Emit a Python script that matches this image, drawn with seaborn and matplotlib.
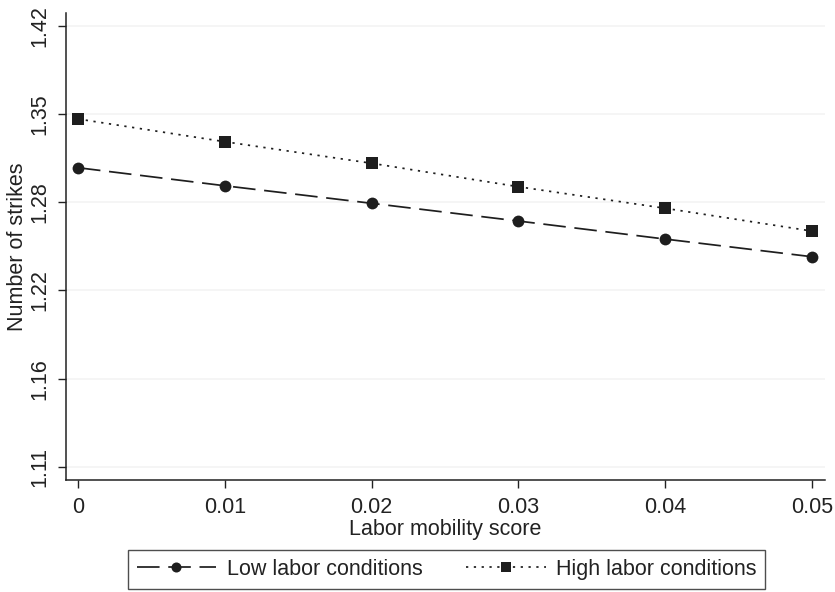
import numpy as np
import pandas as pd
import matplotlib
matplotlib.use("Agg")
import matplotlib.pyplot as plt
import seaborn as sns

# Data (predicted number of strikes)
mobility = [0.00, 0.01, 0.02, 0.03, 0.04, 0.05]
low_labor = [1.3139, 1.3006, 1.2878, 1.2750, 1.2621, 1.2496]
high_labor = [1.3505, 1.3333, 1.3172, 1.2999, 1.2842, 1.2678]
series_names = ["Low labor conditions", "High labor conditions"]

# y axis is log-scaled: ticks evenly spaced on the log scale, labels truncated
ytick_log = [0.1044 + k * 0.0497 for k in range(6)]
ytick_labels = ["1.11", "1.16", "1.22", "1.28", "1.35", "1.42"]
xtick_vals = [0, 0.01, 0.02, 0.03, 0.04, 0.05]
xtick_labels = ["0", "0.01", "0.02", "0.03", "0.04", "0.05"]

df = pd.DataFrame({
    "mobility": mobility * 2,
    "strikes": low_labor + high_labor,
    "group": [series_names[0]] * len(mobility) + [series_names[1]] * len(mobility),
})

sns.set_theme(style="white")
plt.rcParams['font.family'] = ['Liberation Sans', 'DejaVu Sans']
ink = "#1e1e1e"
fs = 15.5

fig = plt.figure(figsize=(8.35, 5.92), dpi=100)
ax = fig.add_axes([0.079, 0.189, 0.909, 0.789])

sns.lineplot(data=df, x="mobility", y="strikes", style="group",
             style_order=series_names,
             markers={series_names[0]: "o", series_names[1]: "s"},
             dashes={series_names[0]: (13, 5), series_names[1]: (1.3, 3.2)},
             color=ink, linewidth=1.25, markersize=8.5, markeredgewidth=0,
             ax=ax)

ax.set_yscale("log")
ax.set_ylim(np.exp(0.0969), np.exp(0.3602))
ax.set_xlim(-0.00082, 0.05089)
ax.yaxis.set_major_locator(matplotlib.ticker.FixedLocator(np.exp(ytick_log)))
ax.yaxis.set_minor_locator(matplotlib.ticker.NullLocator())
ax.set_yticklabels(ytick_labels)
ax.set_xticks(xtick_vals)
ax.set_xticklabels(xtick_labels)

ax.grid(axis="y", color="#f3f3f3", linewidth=1.2)
ax.grid(axis="x", visible=False)
for side in ["top", "right"]:
    ax.spines[side].set_visible(False)
for side in ["left", "bottom"]:
    ax.spines[side].set_color("#222222")
    ax.spines[side].set_linewidth(1.1)

ax.tick_params(axis="both", which="major", direction="out", length=6, width=1.0,
               color="#222222", labelsize=fs, labelcolor="#222222",
               left=True, bottom=True, pad=5)
ax.tick_params(axis="x", pad=6)
plt.setp(ax.get_yticklabels(), rotation=90, va="center")

ax.set_xlabel("Labor mobility score", fontsize=fs, color="#222222", labelpad=1)
ax.set_ylabel("Number of strikes", fontsize=fs, color="#222222", labelpad=1)

handles, labels = ax.get_legend_handles_labels()
ax.get_legend().remove()
leg = fig.legend(handles, labels, loc="center", bbox_to_anchor=(0.535, 0.038),
                 ncol=2, frameon=True, fancybox=False, fontsize=fs,
                 handlelength=3.7, columnspacing=2.0, handletextpad=0.5,
                 borderpad=0.4, borderaxespad=0, markerscale=0.85)
leg.get_frame().set_edgecolor("#222222")
leg.get_frame().set_linewidth(1.0)
for t in leg.get_texts():
    t.set_color("#222222")

fig.savefig("out.png", dpi=100)
